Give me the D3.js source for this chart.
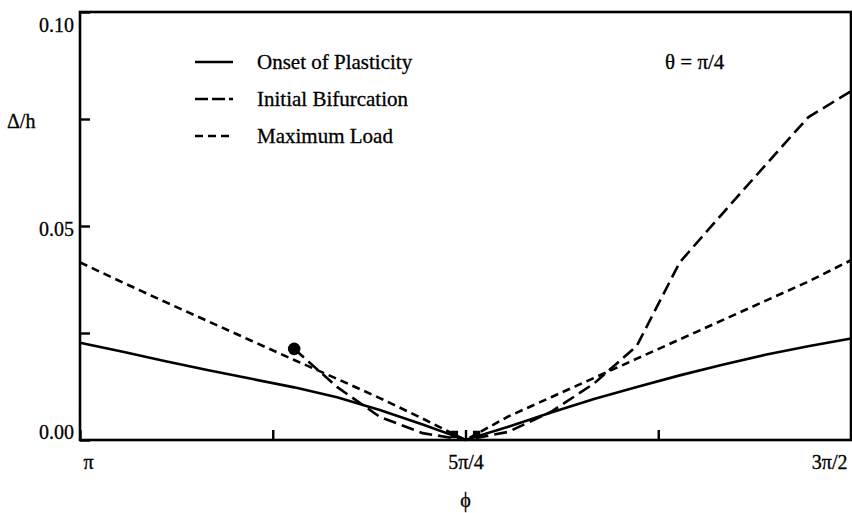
<!DOCTYPE html>
<meta charset="utf-8">
<style>
	body { margin: 0; background: white; }
	text {
		font-family: "Liberation Serif", "Times New Roman", serif;
		fill: black;
		stroke: black;
		stroke-width: 0.3px;
	}
	.frame { fill: none; stroke: black; stroke-width: 2.6px; }
	.curve { fill: none; stroke: black; stroke-width: 2.6px; }
	.tick line { stroke: black; stroke-width: 2.4px; }
</style>
<html>
<body>
<script src="https://d3js.org/d3.v7.min.js"></script>
<script>
	var width = 852;
	var height = 513;
	var margin = {top: 12, right: 1, bottom: 73, left: 80};

	// phi in degrees: 180 = pi, 225 = 5pi/4, 270 = 3pi/2
	var phiOnset = [180, 185, 190, 195, 200, 205, 210, 215, 220, 225, 230, 235, 240, 245, 250, 255, 260, 265, 270];
	var onset = [0.0227, 0.0206, 0.0184, 0.0163, 0.0143, 0.0123, 0.0100, 0.0070, 0.0036, 0.0, 0.0031, 0.0064, 0.0096, 0.0124, 0.0151, 0.0176, 0.0199, 0.0219, 0.0237];

	var phiBif = [205, 210, 215, 220, 225, 230, 235, 240, 245, 250, 255, 260, 265, 270];
	var bifurcation = [0.0213, 0.0124, 0.0054, 0.0016, 0.0, 0.0019, 0.0066, 0.0132, 0.0220, 0.0415, 0.0529, 0.0642, 0.0754, 0.0815];

	var phiMax = [180, 185, 190, 195, 200, 205, 210, 215, 220, 225, 230, 235, 240, 245, 250, 255, 260, 265, 270];
	var maxLoad = [0.0415, 0.0368, 0.0322, 0.0277, 0.0232, 0.0187, 0.0143, 0.0098, 0.0050, 0.0, 0.0055, 0.0100, 0.0145, 0.0190, 0.0235, 0.0280, 0.0325, 0.0370, 0.0420];

	var bifStart = [205, 0.0213];
	var minMarks = [[223.7, 0.0013], [226.3, 0.0013]];

	var xTicks = [180, 202.5, 225, 247.5, 270];
	var xTickLabels = ["π", "", "5π/4", "", "3π/2"];
	var yTicks = [0, 0.025, 0.05, 0.075, 0.10];
	var yTickLabels = ["0.00", "", "0.05", "", "0.10"];

	var legendNames = ["Onset of Plasticity", "Initial Bifurcation", "Maximum Load"];

	var series = [
		{phi: phiOnset, val: onset, dash: null},
		{phi: phiBif, val: bifurcation, dash: "13,6"},
		{phi: phiMax, val: maxLoad, dash: "8,5"}
	];

	var x = d3.scaleLinear()
		.domain([180, 270])
		.range([margin.left, width - margin.right]);

	var y = d3.scaleLinear()
		.domain([0, 0.10])
		.range([height - margin.bottom, margin.top]);

	// tick labels sit a little inside the frame
	var labelY = d3.scaleLinear()
		.domain([0, 0.10])
		.range([432, 25]);

	var svg = d3.select("body")
		.append("svg")
		.attr("width", width)
		.attr("height", height)
		.style("background-color", "white");

	// x axis, ticks pointing inward
	var gx = svg.append("g")
		.attr("transform", `translate(0,${height - margin.bottom})`)
		.call(d3.axisBottom(x)
			.tickValues(xTicks)
			.tickSize(-10)
			.tickFormat((d, i) => xTickLabels[i]));
	gx.select(".domain").remove();
	gx.selectAll("text")
		.attr("y", 29)
		.attr("dy", 0)
		.style("font-size", "20px")
		.attr("text-anchor", (d, i) => i == 0 ? "start" : (i == xTicks.length - 1 ? "end" : "middle"))
		.attr("x", (d, i) => i == 0 ? 3 : (i == xTicks.length - 1 ? -4 : 0));

	var gy = svg.append("g")
		.attr("transform", `translate(${margin.left},0)`)
		.call(d3.axisLeft(y)
			.tickValues(yTicks)
			.tickSize(-10)
			.tickFormat((d, i) => yTickLabels[i]));
	gy.select(".domain").remove();
	gy.selectAll(".tick text")
		.attr("x", -6)
		.attr("y", d => labelY(d) - y(d))
		.attr("dy", "0.33em")
		.style("font-size", "20px");

	svg.append("rect")
		.attr("class", "frame")
		.attr("x", x(180))
		.attr("y", y(0.10))
		.attr("width", x(270) - x(180))
		.attr("height", y(0) - y(0.10));

	var line = d3.line()
		.x(d => x(d[0]))
		.y(d => y(d[1]));

	series.forEach(function(s) {
		svg.append("path")
			.datum(s.phi.map((p, i) => [p, s.val[i]]))
			.attr("class", "curve")
			.attr("stroke-dasharray", s.dash)
			.attr("d", line);
	});

	svg.append("circle")
		.attr("cx", x(bifStart[0]))
		.attr("cy", y(bifStart[1]))
		.attr("r", 6.3)
		.style("fill", "black");

	svg.selectAll("path.mark")
		.data(minMarks)
		.enter().append("path")
		.attr("class", "mark")
		.attr("transform", d => `translate(${x(d[0])},${y(d[1])})`)
		.attr("d", d3.symbol().type(d3.symbolSquare).size(55))
		.style("fill", "black");

	// legend
	var legend = svg.append("g");
	legendNames.forEach(function(name, i) {
		var ly = 62 + i * 37;
		legend.append("line")
			.attr("x1", 195).attr("x2", 233)
			.attr("y1", ly).attr("y2", ly)
			.attr("stroke", "black")
			.attr("stroke-width", 2.6)
			.attr("stroke-dasharray", i == 1 ? "13,4" : series[i].dash);
		legend.append("text")
			.attr("x", 257)
			.attr("y", ly + 7)
			.style("font-size", "21px")
			.text(name);
	});

	svg.append("text")
		.attr("x", 665)
		.attr("y", 69)
		.style("font-size", "21px")
		.text("θ = π/4");

	svg.append("text")
		.attr("x", 7)
		.attr("y", 128)
		.style("font-size", "20px")
		.text("Δ/h");

	svg.append("text")
		.attr("x", x(225))
		.attr("y", 507)
		.attr("text-anchor", "middle")
		.style("font-size", "20px")
		.text("ϕ");
</script>
</body>
</html>
